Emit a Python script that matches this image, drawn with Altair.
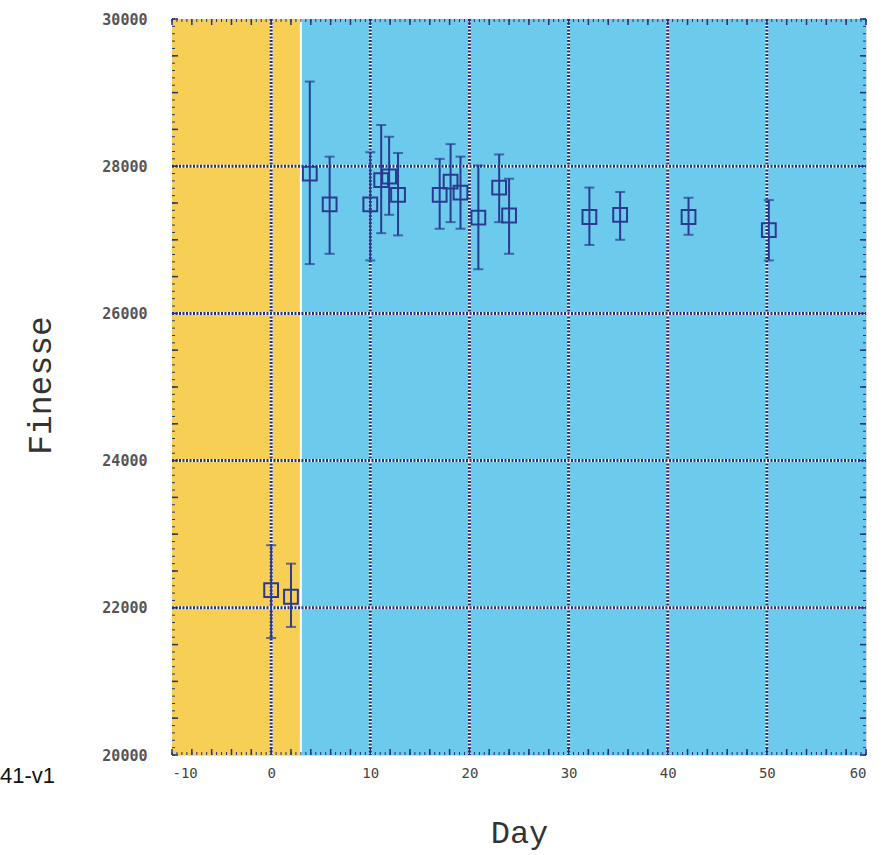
import altair as alt
import pandas as pd

# ---- data ----
day = [0.0, 2.0, 3.9, 5.9, 10.0, 11.1, 11.9, 12.8, 17.0, 18.1, 19.1, 20.9, 23.0, 24.0, 32.1, 35.2, 42.1, 50.2]
finesse = [22240, 22150, 27900, 27480, 27480, 27810, 27860, 27610, 27610, 27790, 27640, 27300, 27710, 27330, 27310, 27340, 27310, 27130]
err_hi = [22850, 22600, 29150, 28130, 28190, 28560, 28400, 28180, 28100, 28300, 28130, 28010, 28160, 27830, 27710, 27650, 27570, 27540]
err_lo = [21590, 21740, 26670, 26810, 26720, 27090, 27340, 27060, 27150, 27240, 27150, 26600, 27240, 26810, 26930, 27000, 27070, 26720]

region_start = [-10, 3]
region_end = [3, 60]
region_name = ["before", "after"]
region_color = ["#F8CF55", "#6CCBEC"]

x_tick_labels = [-10, 0, 10, 20, 30, 40, 50, 60]
y_tick_labels = [20000, 22000, 24000, 26000, 28000, 30000]
x_grid = [0, 10, 20, 30, 40, 50]
y_grid = [22000, 24000, 26000, 28000]
x_major_ticks = list(range(-10, 61, 2))
x_minor_ticks = [v / 2 for v in range(-20, 121)]
y_major_ticks = list(range(20000, 30001, 500))
y_minor_ticks = list(range(20000, 30001, 100))

NAVY = "#23307F"
MARK = "#2A3A91"
W, H = 694, 736

xs = alt.Scale(domain=[-10, 60], nice=False, zero=False)
ys = alt.Scale(domain=[20000, 30000], nice=False, zero=False)

XAX = alt.Axis(
    values=x_tick_labels, title="Day", grid=False, domain=False, ticks=False,
    labelExpr="datum.value + ''",
    labelFont="DejaVu Sans Mono", labelFontSize=14, labelColor="#444", labelPadding=11,
    titleFont="Liberation Mono", titleFontSize=32, titleFontWeight="normal", titleColor="#333",
    titleY=77, titleBaseline="middle")
YAX = alt.Axis(
    values=y_tick_labels, title="Finesse", grid=False, domain=False, ticks=False,
    labelExpr="datum.value + ''",
    labelFont="DejaVu Sans Mono", labelFontSize=15, labelFontWeight="bold", labelColor="#555", labelPadding=25,
    titleFont="Liberation Mono", titleFontSize=33, titleFontWeight="normal", titleColor="#333",
    titleAngle=270, titleX=-132, titleY=366, titleAlign="center", titleBaseline="middle")


def X(f):
    return alt.X(f, type="quantitative", scale=xs, axis=XAX, title="Day")


def Y(f):
    return alt.Y(f, type="quantitative", scale=ys, axis=YAX, title="Finesse")


pts = pd.DataFrame({"day": day, "finesse": finesse, "hi": err_hi, "lo": err_lo})
regions = pd.DataFrame({"start": region_start, "end": region_end, "name": region_name})

bg = alt.Chart(regions).mark_rect().encode(
    x=X("start"), x2="end",
    y=alt.value(0), y2=alt.value(H),
    color=alt.Color("name:N", scale=alt.Scale(domain=region_name, range=region_color), legend=None),
)

boundary = alt.Chart(pd.DataFrame({"b": [region_end[0]]})).mark_rule(color="white", strokeWidth=2).encode(
    x=X("b"), y=alt.value(0), y2=alt.value(H))

vg = pd.DataFrame({"g": x_grid})
hg = pd.DataFrame({"g": y_grid})
vgrid_w = alt.Chart(vg).mark_rule(color="white", strokeWidth=3).encode(
    x=X("g"), y=alt.value(0), y2=alt.value(H))
vgrid_n = alt.Chart(vg).mark_rule(color=NAVY, strokeWidth=3, strokeDash=[2, 1.5]).encode(
    x=X("g"), y=alt.value(0), y2=alt.value(H))
hgrid_w = alt.Chart(hg).mark_rule(color="white", strokeWidth=3).encode(
    y=Y("g"), x=alt.value(0), x2=alt.value(W))
hgrid_n = alt.Chart(hg).mark_rule(color=NAVY, strokeWidth=3, strokeDash=[2, 1.5]).encode(
    y=Y("g"), x=alt.value(0), x2=alt.value(W))


def xticks(vals, length, width):
    d = pd.DataFrame({"t": vals})
    bot = alt.Chart(d).mark_rule(color=NAVY, strokeWidth=width).encode(
        x=X("t"), y=alt.value(H), y2=alt.value(H - length))
    top = alt.Chart(d).mark_rule(color=NAVY, strokeWidth=width).encode(
        x=X("t"), y=alt.value(0), y2=alt.value(length))
    return [bot, top]


def yticks(vals, length, width):
    d = pd.DataFrame({"t": vals})
    left = alt.Chart(d).mark_rule(color=NAVY, strokeWidth=width).encode(
        y=Y("t"), x=alt.value(0), x2=alt.value(length))
    right = alt.Chart(d).mark_rule(color=NAVY, strokeWidth=width).encode(
        y=Y("t"), x=alt.value(W), x2=alt.value(W - length))
    return [left, right]


ticks = (xticks(x_minor_ticks, 3, 1) + xticks(x_major_ticks, 6, 1.5)
         + yticks(y_minor_ticks, 3, 1) + yticks(y_major_ticks, 6, 1.5))

base = alt.Chart(pts)
bars = base.mark_rule(color=MARK, strokeWidth=2).encode(
    x=X("day"), y=Y("lo"), y2="hi")
cap_hi = base.mark_tick(color=MARK, size=10, thickness=2, orient="horizontal").encode(
    x=X("day"), y=Y("hi"))
cap_lo = base.mark_tick(color=MARK, size=10, thickness=2, orient="horizontal").encode(
    x=X("day"), y=Y("lo"))
squares = base.mark_point(shape="square", size=190, filled=False, color=MARK, strokeWidth=2, opacity=1).encode(
    x=X("day"), y=Y("finesse"))

note = alt.Chart(pd.DataFrame({"t": ["41-v1"]})).mark_text(
    align="left", baseline="middle", font="Liberation Sans", fontSize=22, color="#111").encode(
    text="t:N", x=alt.value(-172), y=alt.value(757))

chart = alt.layer(
    bg, boundary, vgrid_w, vgrid_n, hgrid_w, hgrid_n, *ticks,
    bars, cap_hi, cap_lo, squares, note
).properties(
    width=W, height=H,
    autosize=alt.AutoSizeParams(type="none"),
    padding={"left": 172, "top": 19, "right": 28, "bottom": 100},
).configure_view(stroke=NAVY, strokeWidth=2.5).configure(background="white")

chart.save("out.html", embed_options={"renderer": "svg", "actions": False})
